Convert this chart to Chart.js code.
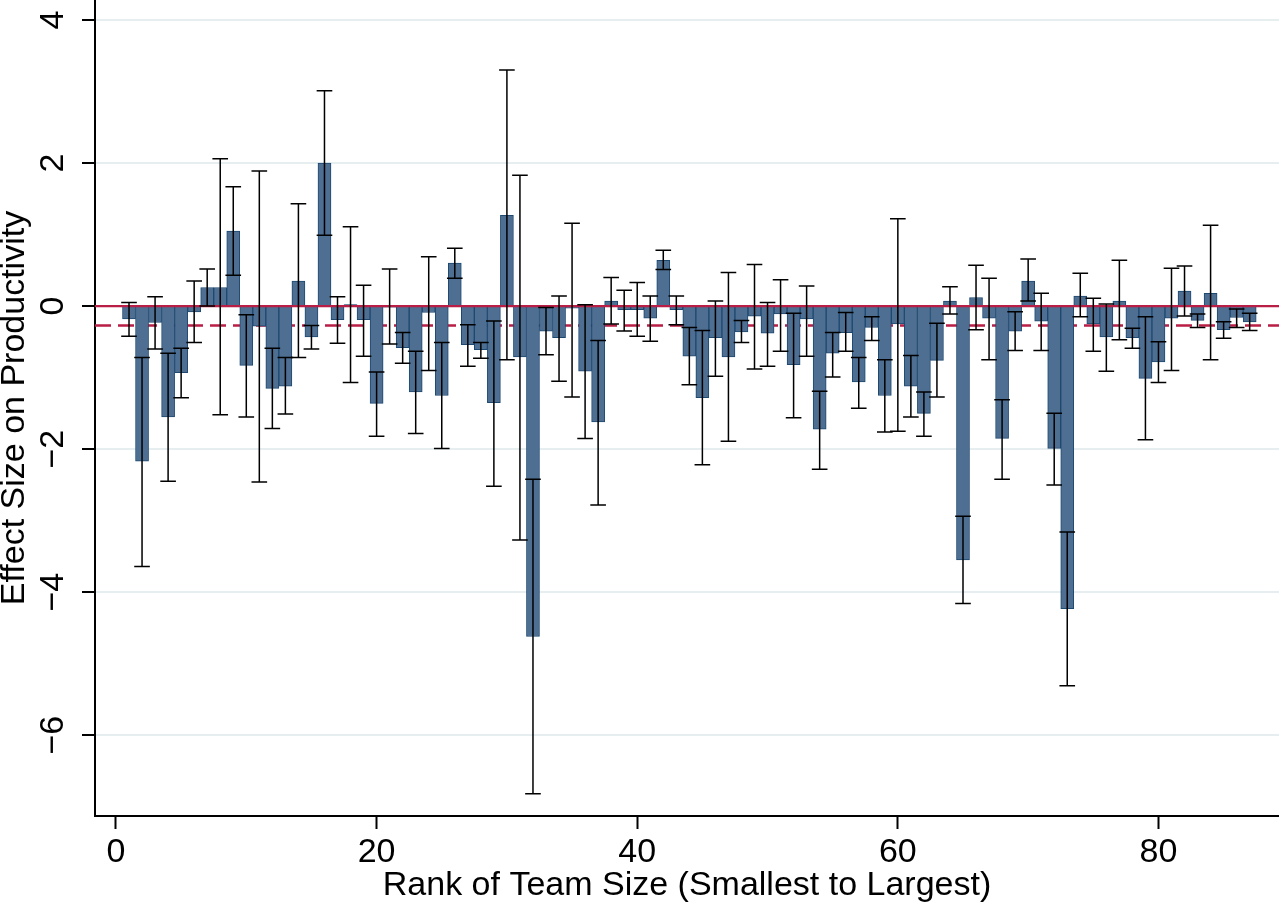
<!DOCTYPE html>
<html>
<head>
<meta charset="utf-8">
<script src="https://cdn.jsdelivr.net/npm/chart.js@4.4.1/dist/chart.umd.min.js"></script>
<style>
  html, body { margin: 0; padding: 0; background: #fff; }
  #wrap { width: 1279px; height: 907px; }
</style>
</head>
<body>
<div id="wrap"><canvas id="effects" width="1279" height="907"></canvas></div>
<script>
// rank of team size, smallest to largest
var ranks = [1,2,3,4,5,6,7,8,9,10,11,12,13,14,15,16,17,18,19,20,
  21,22,23,24,25,26,27,28,29,30,31,32,33,34,35,36,37,38,39,40,
  41,42,43,44,45,46,47,48,49,50,51,52,53,54,55,56,57,58,59,60,
  61,62,63,64,65,66,67,68,69,70,71,72,73,74,75,76,77,78,79,80,
  81,82,83,84,85,86,87];

// point estimates
var effect = [-0.18,-2.17,-0.23,-1.55,-0.93,-0.08,0.26,0.26,1.05,-0.83,
  -0.28,-1.15,-1.12,0.35,-0.43,2.00,-0.19,0.02,-0.19,-1.36,
  -0.01,-0.58,-1.20,-0.09,-1.25,0.60,-0.54,-0.61,-1.35,1.27,
  -0.71,-4.62,-0.35,-0.44,-0.03,-0.91,-1.62,0.07,-0.05,-0.05,
  -0.17,0.64,-0.05,-0.70,-1.28,-0.44,-0.71,-0.36,-0.14,-0.38,
  -0.11,-0.82,-0.18,-1.72,-0.66,-0.37,-1.06,-0.30,-1.25,-0.25,
  -1.12,-1.50,-0.76,0.07,-3.55,0.12,-0.17,-1.85,-0.35,0.35,
  -0.21,-1.99,-4.23,0.14,-0.25,-0.43,0.07,-0.44,-1.01,-0.78,
  -0.17,0.21,-0.20,0.18,-0.33,-0.16,-0.22];

// confidence interval, lower end
var ciLow = [-0.42,-3.64,-0.60,-2.45,-1.28,-0.51,0.00,-1.52,0.43,-1.55,
  -2.46,-1.71,-1.51,-0.72,-0.60,0.99,-0.52,-1.07,-0.70,-1.82,
  -0.53,-0.80,-1.78,-0.90,-1.99,0.39,-0.84,-0.73,-2.52,-0.75,
  -3.27,-6.82,-0.68,-1.05,-1.27,-1.85,-2.78,-0.25,-0.35,-0.42,
  -0.49,0.51,-0.26,-1.10,-2.22,-0.98,-1.89,-0.51,-0.88,-0.84,
  -0.63,-1.56,-0.70,-2.28,-0.99,-0.63,-1.43,-0.48,-1.76,-1.75,
  -1.55,-1.82,-1.27,-0.11,-4.16,-0.33,-0.75,-2.42,-0.62,0.07,
  -0.62,-2.50,-5.31,-0.15,-0.63,-0.91,-0.47,-0.59,-1.87,-1.07,
  -0.90,-0.14,-0.30,-0.75,-0.45,-0.30,-0.34];

// confidence interval, upper end
var ciHigh = [0.05,-0.72,0.13,-0.66,-0.59,0.35,0.52,2.06,1.67,-0.12,
  1.89,-0.59,-0.72,1.43,-0.27,3.01,0.13,1.11,0.29,-0.92,
  0.52,-0.37,-0.63,0.69,-0.51,0.81,-0.26,-0.51,-0.21,3.30,
  1.83,-2.42,-0.02,0.14,1.16,0.02,-0.48,0.40,0.22,0.33,
  0.14,0.78,0.14,-0.30,-0.34,0.07,0.47,-0.20,0.58,0.05,
  0.37,-0.10,0.28,-1.19,-0.37,-0.09,-0.72,-0.15,-0.75,1.22,
  -0.69,-1.20,-0.24,0.27,-2.94,0.57,0.39,-1.31,-0.08,0.66,
  0.18,-1.50,-3.16,0.46,0.11,0.03,0.64,-0.31,-0.15,-0.50,
  0.53,0.56,-0.11,1.13,-0.22,-0.04,-0.10];

var meanEffect = -0.27;
var xTicks = [0, 20, 40, 60, 80];
var yTicks = [-6, -4, -2, 0, 2, 4];

var FONT = '"Liberation Sans", Arial, sans-serif';
var RED = '#b81e46';

var stataBits = {
  id: 'stataBits',
  beforeDatasetsDraw: function(chart) {
    var ctx = chart.ctx, a = chart.chartArea, y = chart.scales.y;
    var py = y.getPixelForValue(meanEffect);
    ctx.save();
    ctx.strokeStyle = RED;
    ctx.lineWidth = 2.5;
    ctx.setLineDash([16, 7]);
    ctx.beginPath();
    ctx.moveTo(a.left, py);
    ctx.lineTo(a.right, py);
    ctx.stroke();
    ctx.restore();
  },
  afterDatasetsDraw: function(chart) {
    var ctx = chart.ctx, a = chart.chartArea;
    var x = chart.scales.x, y = chart.scales.y;
    ctx.save();
    // zero line
    var p0 = y.getPixelForValue(0);
    ctx.strokeStyle = RED;
    ctx.lineWidth = 2.2;
    ctx.beginPath();
    ctx.moveTo(a.left, p0);
    ctx.lineTo(a.right, p0);
    ctx.stroke();

    // error bars
    ctx.strokeStyle = '#000';
    ctx.lineWidth = 1.5;
    for (var i = 0; i < ranks.length; i++) {
      var cx = x.getPixelForValue(ranks[i]);
      var hw = x.getPixelForValue(ranks[i] + 0.6) - cx;
      var lo = y.getPixelForValue(ciLow[i]);
      var hi = y.getPixelForValue(ciHigh[i]);
      ctx.beginPath();
      ctx.moveTo(cx, lo); ctx.lineTo(cx, hi);
      ctx.moveTo(cx - hw, lo); ctx.lineTo(cx + hw, lo);
      ctx.moveTo(cx - hw, hi); ctx.lineTo(cx + hw, hi);
      ctx.stroke();
    }
    ctx.restore();
  },
  afterDraw: function(chart) {
    var ctx = chart.ctx, a = chart.chartArea;
    var x = chart.scales.x, y = chart.scales.y;
    ctx.save();
    ctx.fillStyle = '#000';
    ctx.font = '34px ' + FONT;
    ctx.textAlign = 'center';
    ctx.textBaseline = 'alphabetic';
    xTicks.forEach(function(v) {
      ctx.fillText(String(v), x.getPixelForValue(v), 862);
    });
    ctx.fillText('Rank of Team Size (Smallest to Largest)', (a.left + a.right) / 2, 895);

    yTicks.forEach(function(v) {
      ctx.save();
      ctx.translate(63, y.getPixelForValue(v));
      ctx.rotate(-Math.PI / 2);
      ctx.fillText(v < 0 ? '\u2212' + Math.abs(v) : String(v), 0, 0);
      ctx.restore();
    });
    ctx.save();
    ctx.translate(24, (a.top + a.bottom) / 2);
    ctx.rotate(-Math.PI / 2);
    ctx.fillText('Effect Size on Productivity', 0, 0);
    ctx.restore();
    ctx.restore();
  }
};

var ctx = document.getElementById('effects').getContext('2d');
var chart = new Chart(ctx, {
  type: 'bar',
  data: {
    datasets: [{
      data: ranks.map(function(r, i) { return { x: r, y: effect[i] }; }),
      backgroundColor: '#4f6f92',
      borderColor: '#1d4870',
      borderWidth: 1,
      barPercentage: 1,
      categoryPercentage: 1
    }]
  },
  options: {
    responsive: false,
    animation: false,
    devicePixelRatio: 1,
    layout: { padding: 0 },
    plugins: { legend: { display: false }, tooltip: { enabled: false } },
    scales: {
      x: {
        type: 'linear',
        min: -1.61,
        max: 89.25,
        offset: false,
        afterBuildTicks: function(s) { s.ticks = xTicks.map(function(v) { return { value: v }; }); },
        afterFit: function(s) { s.height = 91; },
        ticks: { display: false },
        grid: { offset: false, drawOnChartArea: false, drawTicks: true, tickLength: 13, tickColor: '#000', tickWidth: 2 },
        border: { display: true, color: '#000', width: 2 }
      },
      y: {
        type: 'linear',
        min: -7.13,
        max: 4.28,
        afterBuildTicks: function(s) { s.ticks = yTicks.map(function(v) { return { value: v }; }); },
        afterFit: function(s) { s.width = 95; },
        ticks: { display: false },
        grid: { color: '#e7eef0', lineWidth: 2, drawTicks: true, tickLength: 13, tickColor: '#000', tickWidth: 2 },
        border: { display: true, color: '#000', width: 2 }
      }
    }
  },
  plugins: [stataBits]
});
</script>
</body>
</html>
